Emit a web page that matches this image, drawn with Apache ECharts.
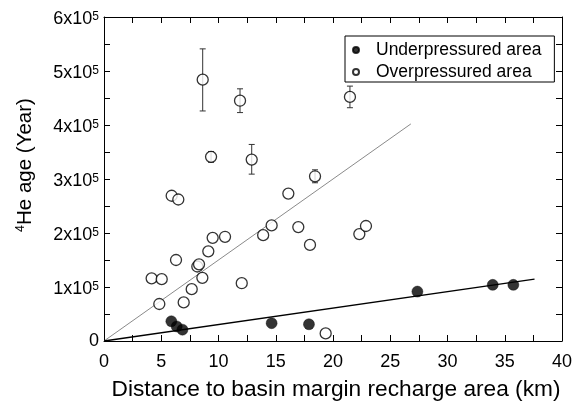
<!DOCTYPE html>
<html>
<head>
<meta charset="utf-8">
<script src="https://cdn.jsdelivr.net/npm/echarts@6/dist/echarts.min.js"></script>
<style>
html,body{margin:0;padding:0;background:#fff;}
#chart{width:585px;height:406px;}
</style>
</head>
<body>
<div id="chart"></div>
<script>
// Overpressured area (open circles)
const overX = [8.62, 11.88, 9.35, 12.9, 18.43, 21.48, 5.91, 6.49, 16.1, 14.64, 13.9, 16.97, 17.99, 9.49, 10.57, 9.11, 6.29, 8.15, 8.3, 8.59, 4.16, 5.04, 12.03, 7.66, 4.83, 6.96, 19.36, 22.3, 22.88];
const overY = [484000, 445000, 341000, 336000, 305000, 452000, 269000, 262000, 273000, 214000, 196000, 211000, 178000, 191000, 193000, 166000, 150000, 138000, 142000, 117000, 116000, 114500, 107000, 96000, 68500, 71500, 14000, 198000, 213000];
// Error bars (for the first six overpressured points)
const errX = [8.62, 11.88, 9.35, 12.9, 18.43, 21.48];
const errLow = [426000, 423000, 331000, 309000, 293000, 432000];
const errHigh = [541000, 467000, 351000, 364000, 317000, 472000];
// Underpressured area (filled circles)
const underX = [5.88, 6.35, 6.85, 14.64, 17.9, 27.37, 33.95, 35.75];
const underY = [36500, 27000, 21000, 33000, 31000, 91500, 104000, 104000];
// Fit lines
const overFitX = [0, 26.8];
const overFitY = [0, 402000];
const underFitX = [0, 37.6];
const underFitY = [0, 114500];
// Axis ticks
const xTicks = [0, 5, 10, 15, 20, 25, 30, 35, 40];
const yTicks = [0, 100000, 200000, 300000, 400000, 500000, 600000];
// Titles
const xTitle = 'Distance to basin margin recharge area (km)';
const yTitleSup = '4';
const yTitleMain = 'He age (Year)';

const FONT = 'Liberation Sans, Arial, Helvetica, sans-serif';
const zip = (a, b) => a.map((v, i) => [v, b[i]]);

const chart = echarts.init(document.getElementById('chart'), null, {renderer: 'canvas'});

const commonTick = {show: true, inside: true, length: 6, lineStyle: {color: '#000', width: 1}};

const option = {
  animation: false,
  backgroundColor: '#fff',
  grid: {left: 104, right: 23, top: 17, bottom: 59, containLabel: false},
  graphic: [{
    type: 'text',
    x: 25, y: 165,
    rotation: Math.PI / 2,
    style: {
      text: '{s|' + yTitleSup + '}{b|' + yTitleMain + '}',
      align: 'center', verticalAlign: 'middle',
      rich: {
        b: {fontFamily: FONT, fontSize: 20.5, fill: '#000', color: '#000'},
        s: {fontFamily: FONT, fontSize: 12.5, fill: '#000', color: '#000', verticalAlign: 'top', padding: [0, 0, 8, 0]}
      }
    }
  }],
  legend: {
    data: ['Underpressured area', 'Overpressured area'],
    orient: 'vertical',
    left: 345,
    top: 36,
    padding: [5, 13, 1, 7],
    itemGap: 4,
    itemWidth: 6,
    itemHeight: 6,
    borderColor: '#000',
    borderWidth: 1,
    backgroundColor: '#fff',
    textStyle: {fontFamily: FONT, fontSize: 17.5, color: '#000', lineHeight: 18, padding: [0, 0, 0, 12]}
  },
  xAxis: [{
    type: 'value', min: xTicks[0], max: xTicks[xTicks.length - 1], interval: 5,
    name: xTitle,
    nameLocation: 'middle', nameGap: 37,
    nameTextStyle: {fontFamily: FONT, fontSize: 22.7, color: '#000', padding: [0, 0, 0, 6]},
    axisLine: {show: true, onZero: false, lineStyle: {color: '#000', width: 1}},
    axisTick: commonTick,
    minorTick: {show: true, splitNumber: 2, length: 6, lineStyle: {color: '#000', width: 1}},
    splitLine: {show: false},
    axisLabel: {fontFamily: FONT, fontSize: 18, color: '#000', margin: 12}
  }, {
    type: 'value', position: 'top', min: 0, max: 40, interval: 2.5,
    axisLine: {show: true, onZero: false, lineStyle: {color: '#000', width: 1}},
    axisTick: commonTick, axisLabel: {show: false}, splitLine: {show: false}
  }],
  yAxis: [{
    type: 'value', min: yTicks[0], max: yTicks[yTicks.length - 1], interval: 100000,
    axisLine: {show: true, onZero: false, lineStyle: {color: '#000', width: 1}},
    axisTick: commonTick,
    minorTick: {show: true, splitNumber: 2, length: 6, lineStyle: {color: '#000', width: 1}},
    splitLine: {show: false},
    axisLabel: {
      margin: 5,
      formatter: function (v) {
        if (v === 0) return '{b|0}';
        return '{m|' + (v / 100000) + 'x10}{s|5}';
      },
      rich: {
        b: {fontFamily: FONT, fontSize: 18, color: '#000'},
        m: {fontFamily: FONT, fontSize: 18, color: '#000', padding: [5, 0, 0, 0]},
        s: {fontFamily: FONT, fontSize: 12, color: '#000', verticalAlign: 'top', padding: [5, 0, 0, 0]}
      }
    }
  }, {
    type: 'value', position: 'right', min: 0, max: 600000, interval: 50000,
    axisLine: {show: true, onZero: false, lineStyle: {color: '#000', width: 1}},
    axisTick: commonTick, axisLabel: {show: false}, splitLine: {show: false}
  }],
  series: [
    {
      name: 'overFit', type: 'line', data: zip(overFitX, overFitY),
      symbol: 'none', lineStyle: {color: '#8a8a8a', width: 1}, z: 1, silent: true
    },
    {
      name: 'underFit', type: 'line', data: zip(underFitX, underFitY),
      symbol: 'none', lineStyle: {color: '#000', width: 1.3}, z: 1, silent: true
    },
    {
      name: 'err', type: 'custom', z: 2,
      data: errX.map((x, i) => [x, errLow[i], errHigh[i]]),
      encode: {x: 0, y: [1, 2]},
      renderItem: function (params, api) {
        const x = api.value(0);
        const lo = api.coord([x, api.value(1)]);
        const hi = api.coord([x, api.value(2)]);
        const w = 3;
        const st = {stroke: '#333', lineWidth: 1};
        return {
          type: 'group',
          children: [
            {type: 'line', shape: {x1: lo[0], y1: lo[1], x2: hi[0], y2: hi[1]}, style: st},
            {type: 'line', shape: {x1: lo[0] - w, y1: lo[1], x2: lo[0] + w, y2: lo[1]}, style: st},
            {type: 'line', shape: {x1: hi[0] - w, y1: hi[1], x2: hi[0] + w, y2: hi[1]}, style: st}
          ]
        };
      }
    },
    {
      name: 'Overpressured area', type: 'scatter', z: 3,
      data: zip(overX, overY), symbol: 'circle', symbolSize: 11,
      itemStyle: {color: '#fff', borderColor: '#000', borderWidth: 1.3}
    },
    {
      name: 'Underpressured area', type: 'scatter', z: 4,
      data: zip(underX, underY), symbol: 'circle', symbolSize: 11,
      itemStyle: {color: '#000', borderColor: '#000', borderWidth: 0.5}
    }
  ]
};
chart.setOption(option);
</script>
</body>
</html>
